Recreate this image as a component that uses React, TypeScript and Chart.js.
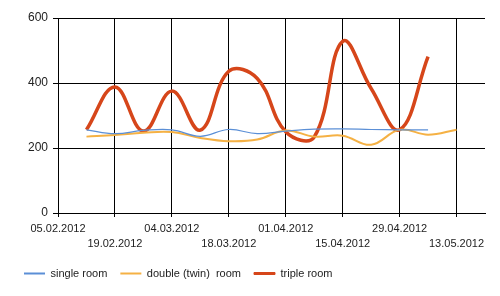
import React, { useEffect, useRef } from "react";
import { Chart, registerables } from "chart.js";

Chart.register(...registerables);

const dateLabels = [
  "05.02.2012", "12.02.2012", "19.02.2012", "26.02.2012",
  "04.03.2012", "11.03.2012", "18.03.2012", "25.03.2012",
  "01.04.2012", "08.04.2012", "15.04.2012", "22.04.2012",
  "29.04.2012", "06.05.2012", "13.05.2012", "20.05.2012",
];

const singleRoom = [null, 256, 244, 254, 256, 236, 257, 244, 252, 258, 259, 257, 256, 256, null, null];
const doubleRoom = [null, 235, 240, 247, 249, 231, 221, 226, 254, 235, 238, 210, 256, 241, 256, null];
const tripleRoom = [null, 256, 388, 252, 375, 255, 436, 414, 250, 234, 528, 383, 256, 481, null, null];

const yTicks = [0, 200, 400, 600];

const FONT = "'Liberation Sans', Arial, sans-serif";

export default function App() {
  const ref = useRef<HTMLCanvasElement | null>(null);

  useEffect(() => {
    document.body.style.margin = "0";
    const canvas = ref.current;
    if (!canvas) return;
    const chart = new Chart(canvas, {
      type: "line",
      data: {
        labels: dateLabels,
        datasets: [
          {
            label: "single room",
            data: singleRoom,
            borderColor: "#5b8fd6",
            backgroundColor: "#5b8fd6",
            borderWidth: 1.2,
            pointRadius: 0,
            tension: 0.4,
          },
          {
            label: "double (twin)  room",
            data: doubleRoom,
            borderColor: "#f5b144",
            backgroundColor: "#f5b144",
            borderWidth: 2,
            pointRadius: 0,
            tension: 0.4,
          },
          {
            label: "triple room",
            data: tripleRoom,
            borderColor: "#d6461a",
            backgroundColor: "#d6461a",
            borderWidth: 3.5,
            pointRadius: 0,
            tension: 0.4,
          },
        ],
      },
      options: {
        animation: false,
        responsive: false,
        events: [],
        layout: { padding: { left: 11, right: 15, top: 18, bottom: 7 } },
        plugins: {
          tooltip: { enabled: false },
          legend: {
            position: "bottom",
            align: "start",
            labels: {
              boxWidth: 21,
              boxHeight: 2,
              padding: 13,
              color: "#222",
              font: { family: FONT, size: 11 },
              generateLabels: (ch: any) => {
                const items = Chart.defaults.plugins.legend.labels.generateLabels(ch);
                return items.map((it: any, i: number) => ({
                  ...it,
                  lineWidth: i === 2 ? 1 : 0,
                  strokeStyle: it.fillStyle,
                }));
              },
            },
          },
        },
        scales: {
          x: {
            type: "category",
            offset: false,
            border: { color: "#000", width: 1 },
            grid: {
              color: (ctx: any) => (ctx.index % 2 === 0 ? "#000" : "rgba(0,0,0,0)"),
              tickLength: 4,
              lineWidth: 1,
            },
            ticks: {
              autoSkip: false,
              maxRotation: 0,
              minRotation: 0,
              padding: 4,
              color: "#222",
              font: { family: FONT, size: 11, lineHeight: 1.4 },
              callback: (_v: any, index: number) => {
                if (index % 2 !== 0) return "";
                const lab = dateLabels[index];
                return index % 4 === 0 ? lab : ["", lab];
              },
            },
            afterFit: (scale: any) => {
              scale.height = 42;
            },
          },
          y: {
            min: 0,
            max: 600,
            border: { color: "#000", width: 1 },
            grid: { color: "#000", tickLength: 5, lineWidth: 1 },
            afterBuildTicks: (scale: any) => {
              scale.ticks = yTicks.map((v) => ({ value: v }));
            },
            ticks: {
              color: "#222",
              padding: 5,
              font: { family: FONT, size: 12 },
            },
            afterFit: (scale: any) => {
              scale.width = 47;
            },
          },
        },
      },
    });
    return () => chart.destroy();
  }, []);

  return <canvas ref={ref} width={500} height={296} style={{ display: "block" }} />;
}
